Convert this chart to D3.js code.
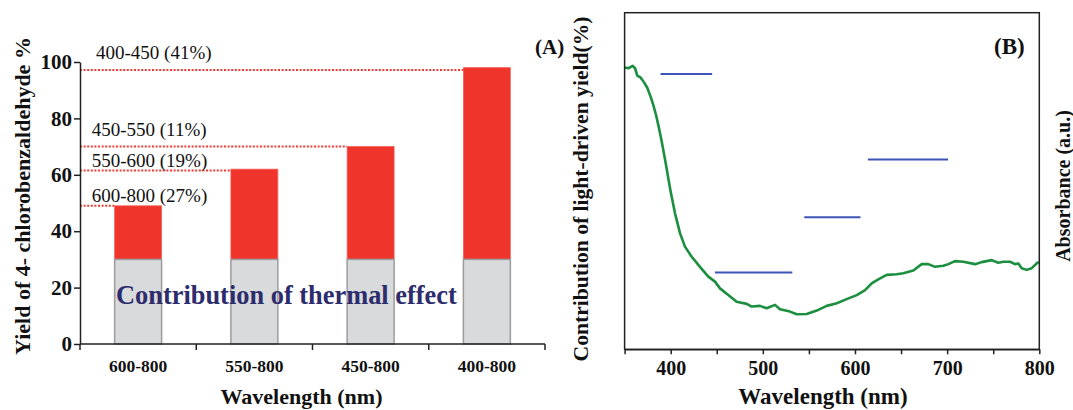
<!DOCTYPE html>
<html>
<head>
<meta charset="utf-8">
<script src="https://cdn.jsdelivr.net/npm/d3@7"></script>
<style>
  html, body { margin: 0; padding: 0; background: #fff; }
  svg { display: block; }
  text { font-family: "Liberation Serif", "Times New Roman", serif; }
</style>
</head>
<body>
<svg id="chart" width="1073" height="410"></svg>
<script>
// ---------- Panel A data ----------
const categories = ["600-800", "550-800", "450-800", "400-800"];
const thermalYield = [30, 30, 30, 30];
const totalYield = [49, 62, 70, 98];
const yTicksA = [0, 20, 40, 60, 80, 100];
const rangeLabels = ["600-800 (27%)", "550-600 (19%)", "450-550 (11%)", "400-450 (41%)"];
const markerLevels = [49, 61.5, 70, 97.2];

// ---------- Panel B data ----------
const xTicksB = [350, 400, 450, 500, 550, 600, 650, 700, 750, 800];
const absWavelength = [350.4, 354.0, 358.8, 361.3, 363.8, 367.5, 371.1, 374.6, 378.3, 381.1, 384.1, 386.6, 389.2, 392.0, 394.9, 397.4, 400.0, 401.1, 404.7, 410.1, 415.5, 422.8, 431.8, 440.8, 448.1, 453.5, 462.5, 471.6, 482.5, 487.9, 496.9, 504.2, 513.2, 518.6, 529.5, 536.8, 547.6, 558.5, 569.3, 580.2, 591.0, 601.9, 610.9, 618.1, 625.3, 634.4, 645.3, 652.4, 663.3, 672.4, 679.6, 686.8, 695.9, 701.3, 708.5, 717.6, 730.3, 737.5, 748.4, 755.5, 761.0, 768.2, 773.7, 777.2, 780.9, 786.4, 791.8, 797.9, 800];
const absValue = [0.837, 0.835, 0.842, 0.835, 0.813, 0.807, 0.793, 0.777, 0.750, 0.726, 0.696, 0.666, 0.632, 0.592, 0.548, 0.508, 0.468, 0.453, 0.404, 0.345, 0.305, 0.275, 0.245, 0.216, 0.201, 0.181, 0.161, 0.141, 0.135, 0.127, 0.129, 0.122, 0.132, 0.119, 0.112, 0.104, 0.105, 0.115, 0.129, 0.137, 0.149, 0.161, 0.176, 0.196, 0.208, 0.221, 0.223, 0.226, 0.234, 0.253, 0.253, 0.245, 0.248, 0.253, 0.262, 0.260, 0.253, 0.259, 0.265, 0.257, 0.260, 0.260, 0.253, 0.255, 0.241, 0.236, 0.241, 0.257, 0.259];
const segStart = [389, 448, 545, 614];
const segEnd = [445, 532, 606, 701];
const segContribution = [40.9, 11.4, 19.6, 28.2];

const svg = d3.select("#chart");
const axisColor = "#222";

// ================= Panel A =================
const A = { left: 80, right: 545, top: 62, bottom: 344 };
const xA = d3.scaleBand().domain(categories).range([A.left, A.right])
  .paddingInner(0.596).paddingOuter(0.298);
const yA = d3.scaleLinear().domain([0, 100]).range([A.bottom, A.top]);

const gA = svg.append("g");

// dotted marker lines (drawn from axis to the left edge of the matching bar)
markerLevels.forEach((lv, i) => {
  gA.append("line")
    .attr("x1", A.left).attr("x2", xA(categories[i]))
    .attr("y1", yA(lv)).attr("y2", yA(lv))
    .attr("stroke", "#f03a33").attr("stroke-width", 2)
    .attr("stroke-dasharray", "2,1.6");
});

// bars
categories.forEach((c, i) => {
  gA.append("rect")
    .attr("x", xA(c)).attr("width", xA.bandwidth())
    .attr("y", yA(totalYield[i])).attr("height", yA(thermalYield[i]) - yA(totalYield[i]))
    .attr("fill", "#ef342b").attr("stroke", "#f2625a").attr("stroke-width", 0.8);
  gA.append("rect")
    .attr("x", xA(c)).attr("width", xA.bandwidth())
    .attr("y", yA(thermalYield[i])).attr("height", yA(0) - yA(thermalYield[i]))
    .attr("fill", "#d9dadc").attr("stroke", "#9c9c9e").attr("stroke-width", 1.5);
});

// range labels
const labelOffsets = [3.7, 3.3, 10.7, 10.4];
const labelX = [91.7, 91.7, 91.7, 96];
rangeLabels.forEach((t, i) => {
  gA.append("text").attr("x", labelX[i]).attr("y", yA(markerLevels[i]) - labelOffsets[i])
    .attr("font-size", 19).attr("fill", "#111").text(t);
});

// y axis
const yAxisA = d3.axisLeft(yA).tickValues(yTicksA).tickSize(6).tickSizeOuter(0).tickPadding(2);
const gyA = gA.append("g").attr("transform", `translate(${A.left},0)`).call(yAxisA);
gyA.select(".domain").attr("stroke", axisColor).attr("stroke-width", 1.5);
gyA.selectAll(".tick line").attr("stroke", axisColor).attr("stroke-width", 1.5);
gyA.selectAll(".tick text").attr("font-family", "Liberation Serif").attr("font-weight", "bold")
  .attr("font-size", 21).attr("fill", "#111");

// x axis line + boundary ticks
gA.append("line").attr("x1", A.left).attr("x2", A.right).attr("y1", A.bottom).attr("y2", A.bottom)
  .attr("stroke", axisColor).attr("stroke-width", 1.5);
const boundaries = categories.map(c => xA(c) - xA.step() * xA.paddingInner() / 2)
  .concat([A.right]);
boundaries.forEach(bx => {
  gA.append("line").attr("x1", bx).attr("x2", bx).attr("y1", A.bottom).attr("y2", A.bottom + 6)
    .attr("stroke", axisColor).attr("stroke-width", 1.5);
});
categories.forEach(c => {
  gA.append("text").attr("x", xA(c) + xA.bandwidth() / 2).attr("y", 371.5)
    .attr("text-anchor", "middle").attr("font-weight", "bold").attr("font-size", 17.5)
    .attr("fill", "#111").text(c);
});

// thermal text
gA.append("text").attr("x", 116).attr("y", 304).attr("font-weight", "bold").attr("font-size", 26.4)
  .attr("fill", "#2d2c6c").text("Contribution of thermal effect");

// titles
gA.append("text").attr("transform", "translate(30,196) rotate(-90)").attr("text-anchor", "middle")
  .attr("font-weight", "bold").attr("font-size", 22).attr("fill", "#111")
  .text("Yield of 4- chlorobenzaldehyde %");
gA.append("text").attr("x", 301.5).attr("y", 404).attr("text-anchor", "middle")
  .attr("font-weight", "bold").attr("font-size", 22).attr("fill", "#111").text("Wavelength (nm)");
gA.append("text").attr("x", 535).attr("y", 54).attr("font-weight", "bold").attr("font-size", 21)
  .attr("fill", "#111").text("(A)");

// ================= Panel B =================
const B = { left: 624.6, right: 1039.3, top: 12.7, bottom: 349.3 };
const xB = d3.scaleLinear().domain([350, 800]).range([B.left, B.right]);
const yAbs = d3.scaleLinear().domain([0, 1]).range([B.bottom, B.top]);
const yPct = d3.scaleLinear().domain([0, 50]).range([B.bottom, B.top]);

const gB = svg.append("g");

// absorbance curve
const absData = absWavelength.map((w, i) => [w, absValue[i]]);
gB.append("path").datum(absData)
  .attr("d", d3.line().x(d => xB(d[0])).y(d => yAbs(d[1])))
  .attr("fill", "none").attr("stroke", "#1b8f3f").attr("stroke-width", 2.6)
  .attr("stroke-linejoin", "round");

// light-driven contribution segments
segStart.forEach((s, i) => {
  gB.append("line").attr("x1", xB(s)).attr("x2", xB(segEnd[i]))
    .attr("y1", yPct(segContribution[i])).attr("y2", yPct(segContribution[i]))
    .attr("stroke", "#3c55b6").attr("stroke-width", 2);
});

// frame
gB.append("rect").attr("x", B.left).attr("y", B.top)
  .attr("width", B.right - B.left).attr("height", B.bottom - B.top)
  .attr("fill", "none").attr("stroke", axisColor).attr("stroke-width", 1.5);

// bottom axis
const xAxisB = d3.axisBottom(xB).tickValues(xTicksB).tickSize(5).tickSizeOuter(0).tickPadding(7)
  .tickFormat(d => (d % 100 === 0 ? d : ""));
const gxB = gB.append("g").attr("transform", `translate(0,${B.bottom})`).call(xAxisB);
gxB.select(".domain").attr("stroke", axisColor).attr("stroke-width", 1.5);
gxB.selectAll(".tick line").attr("stroke", axisColor).attr("stroke-width", 1.5);
gxB.selectAll(".tick text").attr("font-family", "Liberation Serif").attr("font-weight", "bold")
  .attr("font-size", 20).attr("fill", "#111");

// titles
gB.append("text").attr("transform", "translate(588,189) rotate(-90)").attr("text-anchor", "middle")
  .attr("font-weight", "bold").attr("font-size", 21.6).attr("fill", "#111")
  .text("Contribution of light-driven yield(%)");
gB.append("text").attr("transform", "translate(1070,186) rotate(-90)").attr("text-anchor", "middle")
  .attr("font-weight", "bold").attr("font-size", 20).attr("fill", "#111")
  .text("Absorbance (a.u.)");
gB.append("text").attr("x", 823).attr("y", 404).attr("text-anchor", "middle")
  .attr("font-weight", "bold").attr("font-size", 23).attr("fill", "#111").text("Wavelength (nm)");
gB.append("text").attr("x", 994).attr("y", 54).attr("font-weight", "bold").attr("font-size", 23)
  .attr("fill", "#111").text("(B)");
</script>
</body>
</html>
